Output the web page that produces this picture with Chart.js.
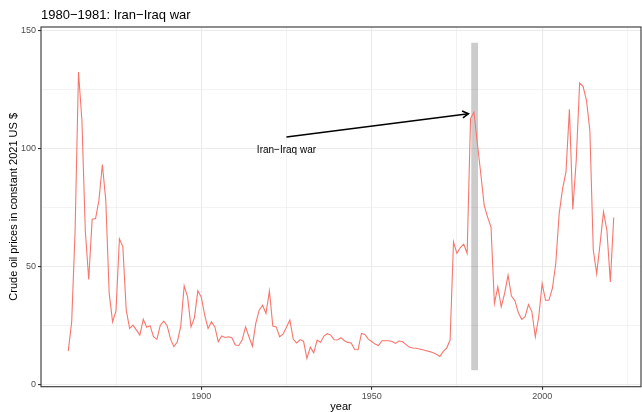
<!DOCTYPE html>
<html>
<head>
<meta charset="utf-8">
<script src="https://cdn.jsdelivr.net/npm/chart.js@4.4.1/dist/chart.umd.min.js"></script>
<style>
  html, body { margin: 0; padding: 0; background: #ffffff; }
  #oilChart { display: block; }
</style>
</head>
<body>
<canvas id="oilChart" width="642" height="412"></canvas>
<script>
// Données : prix du brut en dollars constants 2021
const years = [
    1861, 1862, 1863, 1864, 1865, 1866, 1867, 1868, 1869,
    1870, 1871, 1872, 1873, 1874, 1875, 1876, 1877, 1878, 1879,
    1880, 1881, 1882, 1883, 1884, 1885, 1886, 1887, 1888, 1889,
    1890, 1891, 1892, 1893, 1894, 1895, 1896, 1897, 1898, 1899,
    1900, 1901, 1902, 1903, 1904, 1905, 1906, 1907, 1908, 1909,
    1910, 1911, 1912, 1913, 1914, 1915, 1916, 1917, 1918, 1919,
    1920, 1921, 1922, 1923, 1924, 1925, 1926, 1927, 1928, 1929,
    1930, 1931, 1932, 1933, 1934, 1935, 1936, 1937, 1938, 1939,
    1940, 1941, 1942, 1943, 1944, 1945, 1946, 1947, 1948, 1949,
    1950, 1951, 1952, 1953, 1954, 1955, 1956, 1957, 1958, 1959,
    1960, 1961, 1962, 1963, 1964, 1965, 1966, 1967, 1968, 1969,
    1970, 1971, 1972, 1973, 1974, 1975, 1976, 1977, 1978, 1979,
    1980, 1981, 1982, 1983, 1984, 1985, 1986, 1987, 1988, 1989,
    1990, 1991, 1992, 1993, 1994, 1995, 1996, 1997, 1998, 1999,
    2000, 2001, 2002, 2003, 2004, 2005, 2006, 2007, 2008, 2009,
    2010, 2011, 2012, 2013, 2014, 2015, 2016, 2017, 2018, 2019,
    2020, 2021
];

const prices = [
    14.1, 26.5, 65, 132.6, 112, 65, 44.5, 70.1, 70.4,
    78.2, 93.3, 78.2, 38.6, 26.5, 31.2, 61.8, 58.5, 31.5, 23.7,
    25.1, 23.0, 20.9, 27.6, 24.2, 24.9, 20.2, 19.1, 25.1, 26.8,
    24.9, 19.2, 16.0, 18.1, 24.7, 41.8, 37.1, 24.4, 28.2, 39.7,
    37.1, 29.5, 23.7, 26.5, 24.4, 18.1, 20.5, 19.9, 20.2, 19.8,
    16.7, 16.5, 18.8, 24.4, 20.2, 16.2, 25.9, 31.5, 33.6, 30.1,
    39.6, 24.7, 24.4, 20.2, 21.3, 24.2, 27.3, 19.1, 17.6, 19.0,
    18.3, 11.0, 15.8, 13.4, 18.8, 17.9, 20.5, 21.5, 20.9, 18.9,
    18.8, 19.8, 18.5, 17.8, 17.6, 14.8, 14.7, 21.6, 21.2, 19.2,
    18.2, 17.1, 16.5, 18.5, 18.5, 18.5, 18.2, 17.4, 18.4, 18.2,
    17.0, 15.8, 15.4, 15.3, 15.0, 14.7, 14.3, 13.9, 13.4, 12.8,
    11.8, 14.0, 15.4, 18.8, 60.5, 55.6, 58.1, 59.5, 55.6, 112.8,
    115.6, 102.2, 89.5, 76.0, 71.0, 66.8, 34.3, 41.4, 32.9, 38.6,
    46.3, 37.5, 35.5, 30.5, 27.6, 28.7, 33.9, 30.8, 20.2, 28.7,
    42.8, 35.7, 35.7, 40.7, 51.3, 72.5, 83.1, 90.2, 116.8, 74.2,
    95.0, 127.9, 126.5, 120.6, 107.8, 57.0, 47.0, 59.8, 73.2, 65.4,
    43.5, 70.8
];

const xTicks = [1875, 1900, 1925, 1950, 1975, 2000, 2025];
const yTicks = [0, 25, 50, 75, 100, 125, 150];

// Annotation : guerre Iran-Irak
const warBand = [1979.2, 1981.2];
const warBandY = [6, 145];
const arrowFrom = [1925, 105];
const arrowTo = [1978.4, 114.9];
const warLabel = 'Iran\u2212Iraq war';
const warLabelPos = [1925, 99.5];

const FONT = '"Liberation Sans", Arial, sans-serif';

function isMajor(v) {
    return v % 50 === 0;
}

const annotationPlugin = {
    id: 'annotations',
    beforeDatasetsDraw(chart) {
        const ctx = chart.ctx;
        const xs = chart.scales.x;
        const ys = chart.scales.y;
        const x0 = xs.getPixelForValue(warBand[0]);
        const x1 = xs.getPixelForValue(warBand[1]);
        const y0 = ys.getPixelForValue(warBandY[1]);
        const y1 = ys.getPixelForValue(warBandY[0]);
        ctx.save();
        ctx.fillStyle = 'rgba(0, 0, 0, 0.2)';
        ctx.fillRect(x0, y0, x1 - x0, y1 - y0);
        ctx.restore();
    },
    afterDatasetsDraw(chart) {
        const ctx = chart.ctx;
        const xs = chart.scales.x;
        const ys = chart.scales.y;
        const ax = xs.getPixelForValue(arrowFrom[0]);
        const ay = ys.getPixelForValue(arrowFrom[1]);
        const bx = xs.getPixelForValue(arrowTo[0]);
        const by = ys.getPixelForValue(arrowTo[1]);
        ctx.save();
        ctx.strokeStyle = '#000000';
        ctx.lineWidth = 1.5;
        ctx.beginPath();
        ctx.moveTo(ax, ay);
        ctx.lineTo(bx, by);
        ctx.stroke();
        // pointe de flèche ouverte
        const ang = Math.atan2(by - ay, bx - ax);
        const len = 7;
        const spread = Math.PI / 6;
        ctx.beginPath();
        ctx.moveTo(bx - len * Math.cos(ang - spread), by - len * Math.sin(ang - spread));
        ctx.lineTo(bx, by);
        ctx.lineTo(bx - len * Math.cos(ang + spread), by - len * Math.sin(ang + spread));
        ctx.stroke();

        ctx.fillStyle = '#000000';
        ctx.font = '10px ' + FONT;
        ctx.textAlign = 'center';
        ctx.textBaseline = 'middle';
        ctx.fillText(warLabel, xs.getPixelForValue(warLabelPos[0]), ys.getPixelForValue(warLabelPos[1]));
        ctx.restore();
    },
    afterDraw(chart) {
        const ctx = chart.ctx;
        const area = chart.chartArea;
        ctx.save();
        // cadre du panneau (theme_bw)
        ctx.strokeStyle = '#333333';
        ctx.lineWidth = 1.1;
        ctx.strokeRect(area.left, area.top, area.right - area.left, area.bottom - area.top);

        // titre
        ctx.fillStyle = '#000000';
        ctx.font = '13px ' + FONT;
        ctx.textAlign = 'left';
        ctx.textBaseline = 'alphabetic';
        ctx.fillText('1980\u22121981: Iran\u2212Iraq war', area.left, 18.5);

        // titres des axes
        ctx.font = '11px ' + FONT;
        ctx.textAlign = 'center';
        ctx.textBaseline = 'middle';
        ctx.fillText('year', (area.left + area.right) / 2, 407);

        ctx.translate(14, (area.top + area.bottom) / 2);
        ctx.rotate(-Math.PI / 2);
        ctx.fillText('Crude oil prices in constant 2021 US $', 0, 0);
        ctx.restore();
    }
};

new Chart(document.getElementById('oilChart').getContext('2d'), {
    type: 'line',
    data: {
        datasets: [{
            data: years.map((yr, i) => ({ x: yr, y: prices[i] })),
            borderColor: '#F8766D',
            borderWidth: 1.1,
            pointRadius: 0,
            tension: 0,
            fill: false
        }]
    },
    options: {
        responsive: false,
        animation: false,
        devicePixelRatio: 1,
        layout: {
            padding: { top: 27, right: 1, left: 0, bottom: 0 }
        },
        plugins: {
            legend: { display: false },
            tooltip: { enabled: false },
            title: { display: false }
        },
        scales: {
            x: {
                type: 'linear',
                min: 1853,
                max: 2029,
                afterBuildTicks: function(scale) {
                    scale.ticks = xTicks.map(v => ({ value: v }));
                },
                afterFit: function(scale) {
                    scale.height = 25.3;
                },
                ticks: {
                    autoSkip: false,
                    maxRotation: 0,
                    padding: 1,
                    color: '#4d4d4d',
                    font: { family: FONT, size: 9 },
                    callback: function(v) {
                        return isMajor(v) ? String(v) : '';
                    }
                },
                grid: {
                    color: '#ebebeb',
                    lineWidth: ctx => (isMajor(ctx.tick.value) ? 1.1 : 0.6),
                    tickLength: 3,
                    tickColor: ctx => (isMajor(ctx.tick.value) ? '#333333' : 'rgba(0,0,0,0)')
                },
                border: { display: false }
            },
            y: {
                min: -1,
                max: 151.7,
                afterBuildTicks: function(scale) {
                    scale.ticks = yTicks.map(v => ({ value: v }));
                },
                afterFit: function(scale) {
                    scale.width = 41;
                },
                ticks: {
                    autoSkip: false,
                    padding: 2,
                    color: '#4d4d4d',
                    font: { family: FONT, size: 9 },
                    callback: function(v) {
                        return isMajor(v) ? String(v) : '';
                    }
                },
                grid: {
                    color: '#ebebeb',
                    lineWidth: ctx => (isMajor(ctx.tick.value) ? 1.1 : 0.6),
                    tickLength: 3,
                    tickColor: ctx => (isMajor(ctx.tick.value) ? '#333333' : 'rgba(0,0,0,0)')
                },
                border: { display: false }
            }
        }
    },
    plugins: [annotationPlugin]
});
</script>
</body>
</html>
